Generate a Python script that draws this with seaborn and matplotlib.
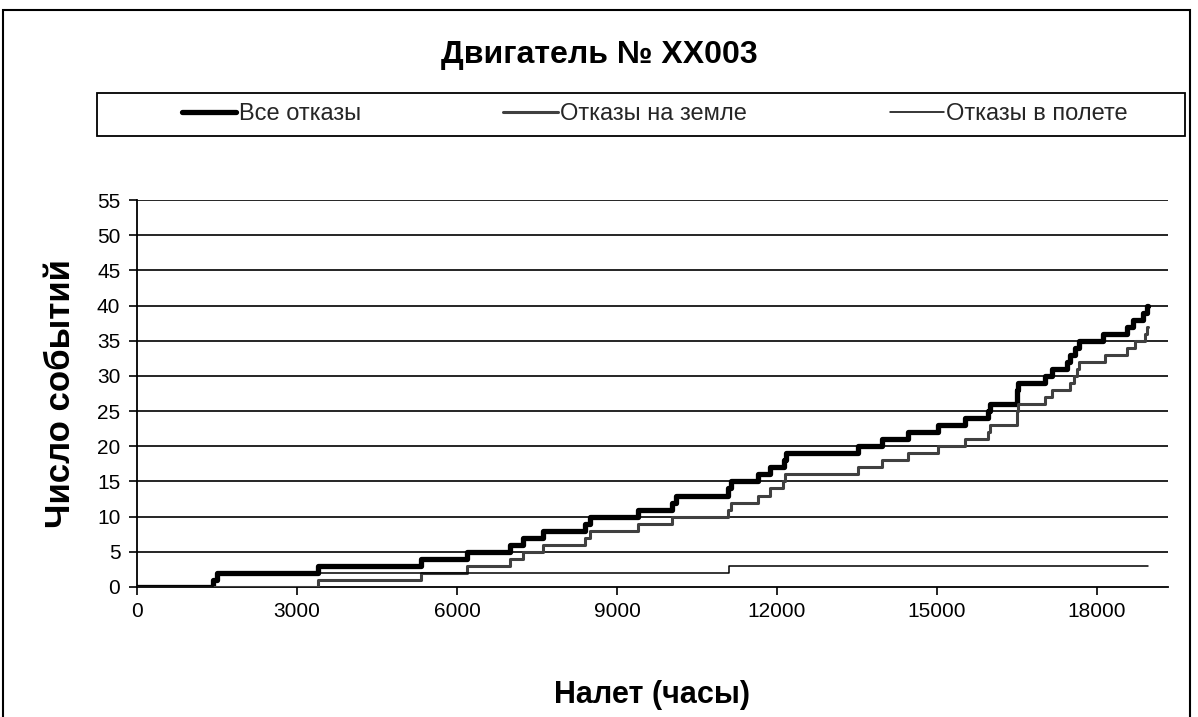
import numpy as np
import pandas as pd
import matplotlib
matplotlib.use("Agg")
import matplotlib.pyplot as plt
from matplotlib.lines import Line2D
from matplotlib.patches import Rectangle
import seaborn as sns

# Flight hours at which each failure occurred (cumulative count rises by one per entry)
all_failures_h = [1425, 1500, 3400, 5325, 6190, 6990, 7240, 7610, 8400, 8490,
                  9390, 10030, 10100, 11080, 11140, 11640, 11870, 12130, 12160, 13520,
                  13970, 14460, 15020, 15530, 15960, 16000, 16490, 16500, 16510, 17020,
                  17160, 17440, 17500, 17590, 17660, 18110, 18560, 18680, 18860, 18940]
ground_failures_h = [3400, 5325, 6190, 6990, 7240, 7610, 8400, 8490, 9390, 10030,
                     11080, 11140, 11640, 11870, 12110, 12140, 13520, 13970, 14460, 15020,
                     15530, 15950, 15990, 16490, 16500, 16510, 17020, 17160, 17500, 17560,
                     17630, 17660, 18150, 18560, 18710, 18890, 18940]
flight_failures_h = [1425, 1500, 11100]
total_hours = 18950

series_names = ["Все отказы", "Отказы на земле", "Отказы в полете"]
x_ticks = [0, 3000, 6000, 9000, 12000, 15000, 18000]
y_ticks = list(range(0, 56, 5))

title = "Двигатель № XX003"
x_label = "Налет (часы)"
y_label = "Число событий"


def cumulative(times, name):
    hours = [0] + list(times) + [total_hours]
    counts = [0] + list(range(1, len(times) + 1)) + [len(times)]
    return pd.DataFrame({"hours": hours, "count": counts, "series": name})


df = pd.concat([
    cumulative(all_failures_h, series_names[0]),
    cumulative(ground_failures_h, series_names[1]),
    cumulative(flight_failures_h, series_names[2]),
], ignore_index=True)

sns.set_theme(style="white")
plt.rcParams["font.family"] = ["Liberation Sans", "DejaVu Sans"]

W, H = 1198, 717
fig = plt.figure(figsize=(W / 100, H / 100), dpi=100)
ax = fig.add_axes([137 / W, 1 - 587 / H, (1168 - 137) / W, (587 - 200) / H])

styles = {
    series_names[0]: dict(color="black", lw=3.8),
    series_names[1]: dict(color="#404040", lw=2.2),
    series_names[2]: dict(color="black", lw=1.1),
}

for name in series_names:
    sub = df[df["series"] == name]
    sns.lineplot(data=sub, x="hours", y="count", ax=ax, estimator=None,
                 drawstyle="steps-post", legend=False, zorder=3,
                 solid_joinstyle="round", **styles[name])

ax.set_xlim(0, 19330)
ax.set_ylim(0, 55)
ax.set_xticks(x_ticks)
ax.set_xticklabels([str(t) for t in x_ticks])
ax.set_yticks(y_ticks)
ax.set_yticklabels([str(t) for t in y_ticks])

for y in y_ticks[1:]:
    ax.axhline(y, color="black", lw=1.2, zorder=1)

for side in ["top", "right"]:
    ax.spines[side].set_visible(False)
for side in ["left", "bottom"]:
    ax.spines[side].set_color("black")
    ax.spines[side].set_linewidth(1.3)

ax.tick_params(axis="both", which="major", direction="out", length=6, width=1.2,
               color="black", labelsize=15, labelcolor="black")
ax.tick_params(axis="x", pad=5, bottom=True)
ax.tick_params(axis="y", pad=6, left=True)

ax.set_xlabel(x_label, fontsize=22, fontweight="bold", color="black")
ax.set_ylabel(y_label, fontsize=25, fontweight="bold", color="black")
ax.xaxis.label.set_va("center")
ax.yaxis.label.set_va("center")
ax.xaxis.set_label_coords(0.5, (587 - 695) / 387)
ax.yaxis.set_label_coords((60 - 137) / 1031, 0.5)

fig.text(0.5, 1 - 55 / H, title, ha="center", va="center",
         fontsize=23, fontweight="bold", color="black")

# Outer chart frame and legend frame
fig.add_artist(Rectangle((3 / W, -0.02), (1190 - 3) / W, 1.02 - 10 / H,
                         transform=fig.transFigure, fill=False,
                         edgecolor="black", lw=1.5))
fig.add_artist(Rectangle((97 / W, 1 - 136 / H), (1185 - 97) / W, 43 / H,
                         transform=fig.transFigure, fill=False,
                         edgecolor="black", lw=1.3))

handles = [Line2D([], [], **styles[n]) for n in series_names]
fig.legend(handles, series_names, loc="center left",
           bbox_to_anchor=(182 / W, 1 - 114.5 / H, (1128 - 182) / W, 0.001),
           mode="expand", ncol=3, frameon=False, borderpad=0, borderaxespad=0,
           handlelength=2.3, handletextpad=0.1, fontsize=17)

fig.savefig("out.png", dpi=100, facecolor="white")
